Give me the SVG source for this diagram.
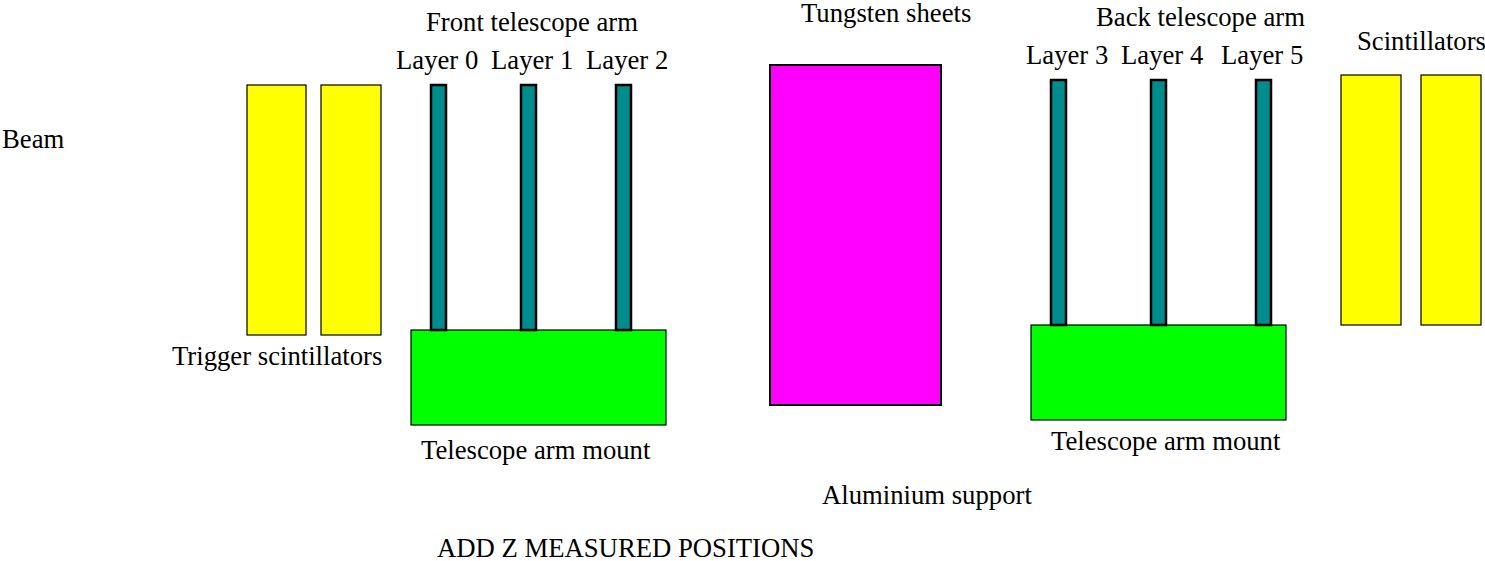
<svg xmlns="http://www.w3.org/2000/svg" width="1485" height="561" viewBox="0 0 1485 561">
<style>
text{font-family:'Liberation Serif',Tinos,'Times New Roman',Times,'DejaVu Serif',serif;font-size:26.7px;fill:#000}
.sc{fill:#ffff00;stroke:#000;stroke-width:1.2}
.ly{fill:#008c8c;stroke:#000;stroke-width:2.5}
.mt{fill:#00ff00;stroke:#000;stroke-width:1.2}
.w{fill:#ff00ff;stroke:#000;stroke-width:2}
</style>
<rect width="1485" height="561" fill="#fff"/>
<g id="beam"><text x="2" y="148">Beam</text></g>
<g id="trigger-scintillators">
<rect class="sc" x="247" y="85" width="59" height="250"/>
<rect class="sc" x="321" y="85" width="60" height="250"/>
<text x="172" y="365">Trigger scintillators</text>
</g>
<g id="front-arm">
<text x="426" y="31">Front telescope arm</text>
<rect class="mt" x="411" y="330" width="255" height="95"/>
<text x="421" y="459">Telescope arm mount</text>
</g>
<g id="layer0"><rect class="ly" x="431" y="85" width="15" height="245"/><text x="396" y="69">Layer 0</text></g>
<g id="layer1"><rect class="ly" x="521" y="85" width="15" height="245"/><text x="491" y="69">Layer 1</text></g>
<g id="layer2"><rect class="ly" x="616" y="85" width="15" height="245"/><text x="586" y="69">Layer 2</text></g>
<g id="tungsten">
<rect class="w" x="770" y="65" width="171" height="340"/>
<text x="801" y="22">Tungsten sheets</text>
</g>
<g id="aluminium"><text x="822" y="504">Aluminium support</text></g>
<g id="back-arm">
<text x="1096" y="26">Back telescope arm</text>
<rect class="mt" x="1031" y="325" width="255" height="95"/>
<text x="1051" y="450">Telescope arm mount</text>
</g>
<g id="layer3"><rect class="ly" x="1051" y="80" width="15" height="245"/><text x="1026" y="64">Layer 3</text></g>
<g id="layer4"><rect class="ly" x="1151" y="80" width="15" height="245"/><text x="1121" y="64">Layer 4</text></g>
<g id="layer5"><rect class="ly" x="1256" y="80" width="15" height="245"/><text x="1221" y="64">Layer 5</text></g>
<g id="scintillators">
<rect class="sc" x="1341" y="75" width="60" height="250"/>
<rect class="sc" x="1421" y="75" width="60" height="250"/>
<text x="1357" y="50">Scintillators</text>
</g>
<g id="note"><text x="437" y="557">ADD Z MEASURED POSITIONS</text></g>
<g id="connectors"></g>
</svg>
